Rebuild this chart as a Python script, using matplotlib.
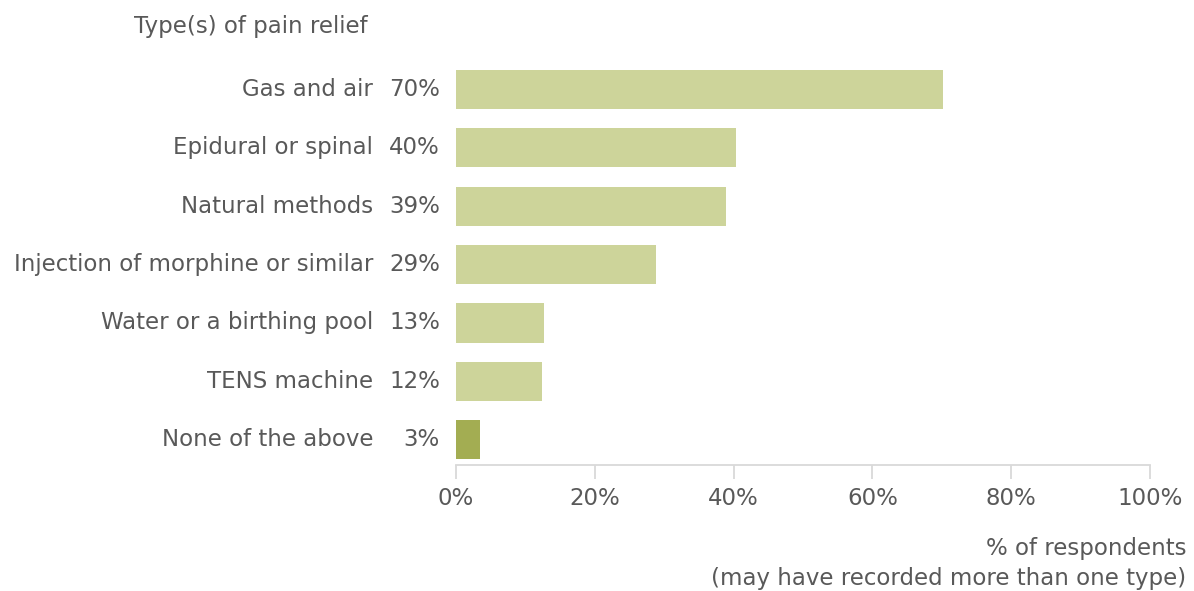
import matplotlib
matplotlib.use("Agg")
import matplotlib.pyplot as plt
from matplotlib.transforms import blended_transform_factory

categories = ["Gas and air", "Epidural or spinal", "Natural methods",
              "Injection of morphine or similar", "Water or a birthing pool",
              "TENS machine", "None of the above"]
values = [70.2, 40.3, 38.9, 28.8, 12.7, 12.4, 3.4]
pct_labels = [f"{round(v)}%" for v in values]
xticks = [0, 20, 40, 60, 80, 100]
xtick_labels = [f"{t}%" for t in xticks]

light = "#CDD49A"
dark = "#A3AD52"
colors = [light] * (len(values) - 1) + [dark]
text_col = "#595959"
axis_col = "#D9D9D9"

plt.rcParams["font.family"] = ["DejaVu Sans"]

W, H = 1194, 591
fig = plt.figure(figsize=(W / 100, H / 100), dpi=100)
ax = fig.add_axes([456 / W, 1 - 465 / H, (1150 - 456) / W, (465 - 60) / H])

y = list(range(len(categories)))
ax.barh(y, values, height=0.67, color=colors)
ax.set_xlim(0, 100)
ax.set_ylim(6.43, -0.5)

for s in ["top", "right", "left"]:
    ax.spines[s].set_visible(False)
ax.spines["bottom"].set_color(axis_col)
ax.spines["bottom"].set_linewidth(1.3)
ax.set_yticks([])
ax.set_xticks(xticks)
ax.set_xticklabels(xtick_labels)

fs = 16.5
ax.tick_params(axis="x", colors=axis_col, length=10, width=1.3, direction="out",
               labelcolor=text_col, labelsize=fs, pad=6)

row_tf = blended_transform_factory(fig.transFigure, ax.transData)
for yi, cat, lab in zip(y, categories, pct_labels):
    ax.text(373 / W, yi, cat, transform=row_tf,
            ha="right", va="center", fontsize=fs, color=text_col)
    ax.text(440 / W, yi, lab, transform=row_tf,
            ha="right", va="center", fontsize=fs, color=text_col)

fig.text(368 / W, 1 - 26 / H, "Type(s) of pain relief", ha="right", va="center",
         fontsize=fs, color=text_col)
fig.text(1186 / W, 1 - 549 / H, "% of respondents", ha="right", va="center",
         fontsize=fs, color=text_col)
fig.text(1186 / W, 1 - 578 / H, "(may have recorded more than one type)", ha="right",
         va="center", fontsize=fs, color=text_col)

fig.savefig("out.png", dpi=100, facecolor="white")
